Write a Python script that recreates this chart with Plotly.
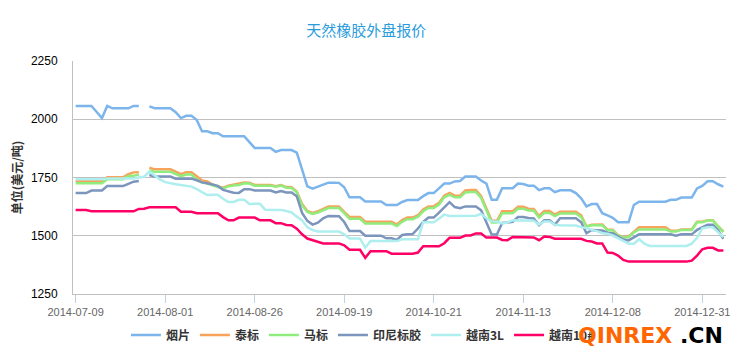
import plotly.graph_objects as go

tick_idx = [0, 17, 34, 51, 68, 85, 102, 119]
tick_labels = ["2014-07-09", "2014-08-01", "2014-08-26", "2014-09-19",
               "2014-10-21", "2014-11-13", "2014-12-08", "2014-12-31"]

yanpian = [2057, 2057, 2057, 2057, 2031, 2005, 2057, 2047, 2047, 2047,
           2047, 2057, 2057, None, 2055, 2047, 2047, 2047, 2047, 2030,
           2005, 2015, 2015, 1997, 1948, 1948, 1940, 1940, 1927, 1927,
           1927, 1927, 1927, 1902, 1877, 1877, 1877, 1877, 1860, 1868,
           1868, 1868, 1857, 1780, 1712, 1702, 1711, 1721, 1728, 1728,
           1727, 1708, 1665, 1665, 1665, 1647, 1647, 1647, 1647, 1632,
           1632, 1632, 1645, 1653, 1653, 1653, 1670, 1683, 1683, 1705,
           1724, 1724, 1733, 1735, 1754, 1754, 1754, 1737, 1724, 1655,
           1655, 1704, 1704, 1704, 1724, 1722, 1715, 1715, 1696, 1704,
           1704, 1687, 1695, 1695, 1695, 1683, 1661, 1626, 1636, 1636,
           1597, 1587, 1577, 1558, 1558, 1558, 1632, 1646, 1646, 1646,
           1646, 1646, 1646, 1654, 1654, 1664, 1664, 1664, 1703, 1714,
           1734, 1734, 1721, 1711]

taibiao = [1736, 1736, 1736, 1736, 1736, 1736, 1751, 1751, 1751, 1751,
           1764, 1772, 1773, None, 1792, 1785, 1785, 1785, 1785, 1775,
           1764, 1773, 1773, 1755, 1737, 1733, 1720, 1711, 1706, 1715,
           1719, 1721, 1728, 1727, 1718, 1718, 1718, 1718, 1713, 1718,
           1709, 1708, 1690, 1636, 1606, 1598, 1605, 1616, 1626, 1626,
           1626, 1602, 1581, 1581, 1581, 1560, 1560, 1560, 1560, 1560,
           1560, 1548, 1567, 1578, 1578, 1588, 1613, 1626, 1626, 1641,
           1672, 1684, 1672, 1672, 1694, 1696, 1696, 1670, 1619, 1564,
           1564, 1605, 1605, 1605, 1624, 1624, 1616, 1615, 1585, 1606,
           1606, 1591, 1603, 1603, 1603, 1603, 1588, 1540, 1547, 1547,
           1548, 1526, 1526, 1502, 1495, 1497, 1518, 1537, 1537, 1537,
           1537, 1537, 1537, 1521, 1521, 1527, 1527, 1527, 1560, 1560,
           1567, 1567, 1541, 1518]

mabiao = [1725, 1725, 1725, 1725, 1725, 1725, 1742, 1742, 1742, 1742,
          1756, 1757, 1763, None, 1780, 1775, 1775, 1775, 1775, 1765,
          1756, 1763, 1763, 1742, 1728, 1724, 1715, 1709, 1703, 1712,
          1716, 1718, 1725, 1724, 1715, 1715, 1715, 1715, 1710, 1715,
          1706, 1705, 1687, 1630, 1602, 1594, 1600, 1611, 1619, 1619,
          1619, 1597, 1573, 1573, 1573, 1553, 1553, 1553, 1553, 1553,
          1553, 1542, 1560, 1571, 1571, 1582, 1605, 1619, 1619, 1634,
          1665, 1675, 1665, 1665, 1686, 1688, 1688, 1662, 1610, 1557,
          1557, 1597, 1597, 1597, 1616, 1616, 1608, 1607, 1578, 1598,
          1598, 1584, 1596, 1596, 1596, 1596, 1580, 1540, 1545, 1545,
          1545, 1524, 1524, 1500, 1493, 1494, 1514, 1527, 1527, 1527,
          1527, 1527, 1527, 1518, 1518, 1525, 1525, 1525, 1558, 1558,
          1565, 1565, 1540, 1516]

yinni = [1683, 1683, 1683, 1694, 1694, 1694, 1713, 1713, 1713, 1713,
         1723, 1732, 1735, None, 1761, 1754, 1754, 1754, 1754, 1745,
         1745, 1745, 1745, 1738, 1729, 1725, 1721, 1714, 1697, 1692,
         1685, 1684, 1700, 1700, 1694, 1694, 1694, 1694, 1686, 1692,
         1686, 1686, 1669, 1598, 1564, 1548, 1556, 1575, 1585, 1585,
         1584, 1559, 1520, 1520, 1520, 1500, 1500, 1500, 1500, 1489,
         1489, 1482, 1503, 1506, 1507, 1531, 1559, 1578, 1578, 1599,
         1623, 1644, 1623, 1618, 1626, 1626, 1626, 1609, 1559, 1505,
         1505, 1555, 1557, 1560, 1580, 1580, 1576, 1574, 1545, 1566,
         1566, 1547, 1575, 1575, 1575, 1575, 1558, 1511, 1525, 1525,
         1523, 1513, 1511, 1497, 1484, 1480, 1494, 1506, 1506, 1506,
         1506, 1506, 1506, 1506, 1500, 1506, 1506, 1506, 1525, 1537,
         1547, 1547, 1523, 1487]

vn3l = [1742, 1742, 1742, 1742, 1742, 1742, 1746, 1746, 1746, 1746,
        1746, 1746, 1750, 1753, 1776, 1758, 1742, 1730, 1724, 1721,
        1718, 1715, 1711, 1700, 1688, 1675, 1676, 1676, 1659, 1645,
        1645, 1654, 1654, 1636, 1637, 1637, 1612, 1611, 1611, 1611,
        1606, 1600, 1582, 1566, 1536, 1524, 1518, 1518, 1518, 1518,
        1518, 1506, 1488, 1488, 1488, 1449, 1477, 1477, 1477, 1477,
        1477, 1477, 1485, 1485, 1485, 1485, 1558, 1558, 1558, 1573,
        1591, 1585, 1585, 1585, 1586, 1586, 1586, 1594, 1575, 1562,
        1560, 1553, 1557, 1566, 1566, 1566, 1566, 1564, 1548, 1561,
        1561, 1547, 1545, 1544, 1544, 1544, 1537, 1533, 1525, 1520,
        1511, 1509, 1501, 1491, 1478, 1466, 1466, 1485, 1466, 1456,
        1456, 1456, 1456, 1456, 1456, 1456, 1456, 1466, 1491, 1532,
        1536, 1536, 1516, 1494]

vn10 = [1610, 1610, 1610, 1605, 1605, 1605, 1605, 1605, 1605, 1605,
        1605, 1605, 1615, 1616, 1622, 1622, 1622, 1622, 1622, 1622,
        1603, 1603, 1603, 1597, 1597, 1597, 1597, 1597, 1580, 1566,
        1566, 1578, 1578, 1578, 1578, 1566, 1566, 1566, 1554, 1554,
        1546, 1545, 1530, 1506, 1488, 1482, 1475, 1467, 1467, 1467,
        1467, 1459, 1440, 1440, 1440, 1405, 1434, 1434, 1434, 1434,
        1423, 1423, 1423, 1423, 1423, 1428, 1455, 1455, 1455, 1455,
        1468, 1491, 1491, 1491, 1501, 1501, 1510, 1510, 1492, 1492,
        1492, 1482, 1481, 1495, 1495, 1495, 1493, 1493, 1481, 1497,
        1495, 1487, 1487, 1487, 1487, 1487, 1487, 1478, 1475, 1467,
        1467, 1428, 1426, 1415, 1396, 1389, 1389, 1389, 1389, 1389,
        1389, 1389, 1389, 1389, 1389, 1389, 1389, 1393, 1415, 1442,
        1448, 1448, 1437, 1437]

series_names = ["烟片", "泰标", "马标", "印尼标胶", "越南3L", "越南10#"]
series_values = [yanpian, taibiao, mabiao, yinni, vn3l, vn10]
series_colors = ["#7CB5EC", "#F7A35C", "#90ED7D", "#7C95BD", "#AEEEEE", "#FF0066"]

x_idx = list(range(len(yanpian)))

fig = go.Figure()
for name, vals, col in zip(series_names, series_values, series_colors):
    fig.add_trace(go.Scatter(x=x_idx, y=vals, name=name, mode="lines",
                             line=dict(color=col, width=2.5),
                             connectgaps=False))

cjk = "Liberation Sans, Noto Sans CJK SC, sans-serif"

# page body has an 8px default margin, so the figure is sized/offset for it
fig.update_layout(
    width=734, height=349,
    margin=dict(l=65, r=16, t=53, b=63, autoexpand=False),
    paper_bgcolor="white", plot_bgcolor="white",
    title=dict(text="天然橡胶外盘报价", x=0.488, xanchor="center",
               y=0.934, yanchor="middle",
               font=dict(family="Noto Sans CJK SC", size=15, color="#2A9CDC")),
    showlegend=True,
    legend=dict(orientation="h", x=0.081, xanchor="left", y=-0.176,
                yanchor="middle", font=dict(family="Noto Sans CJK SC", size=12,
                                            color="#333333", weight="bold"),
                itemwidth=30, tracegroupgap=0, bgcolor="rgba(0,0,0,0)"),
    xaxis=dict(range=[-0.5, len(yanpian) - 0.5], tickmode="array",
               tickvals=tick_idx, ticktext=tick_labels, automargin=False,
               ticks="outside", ticklen=8, tickcolor="#C0D0E0",
               showline=True, linecolor="#C0C0C0", linewidth=1,
               showgrid=False, zeroline=False,
               tickfont=dict(family=cjk, size=11, color="#666666")),
    yaxis=dict(range=[1250, 2250], tickmode="array", automargin=False,
               tickvals=[1250, 1500, 1750, 2000, 2250],
               showline=True, linecolor="#C0C0C0", linewidth=1,
               showgrid=True, gridcolor="#C0C0C0", gridwidth=1,
               zeroline=False, ticks="", ticklabelstandoff=12,
               tickfont=dict(family=cjk, size=12, color="#000000"),
               title=dict(text="单位(美元/吨)", standoff=8,
                          font=dict(family="Noto Sans CJK SC", size=12,
                                    color="#333333", weight="bold"))),
)

fig.add_annotation(text="<b><span style='color:#FF6600'>QINREX</span> .CN</b>",
                   xref="paper", yref="paper",
                   x=0.885, y=-0.176, xanchor="center", yanchor="middle",
                   showarrow=False,
                   font=dict(family="DejaVu Sans", size=22, color="#000000"))

fig.write_html("out.html")
